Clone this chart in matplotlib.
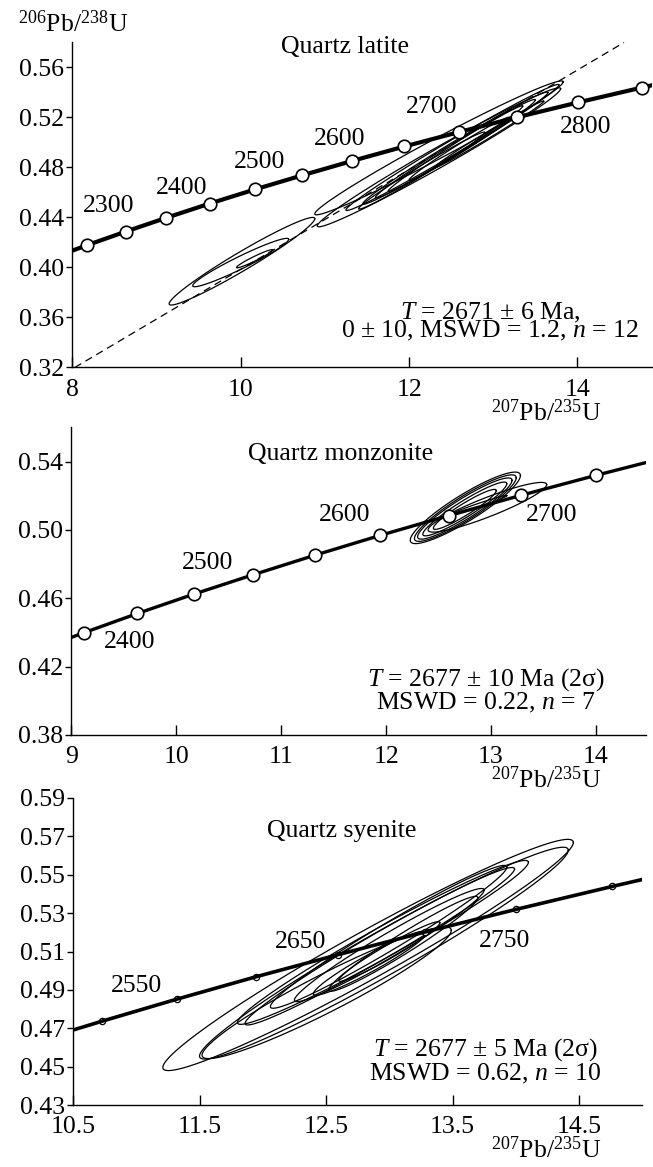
import numpy as np
import matplotlib
matplotlib.use("Agg")
import matplotlib.pyplot as plt

plt.rcParams['font.family'] = ['Liberation Serif', 'DejaVu Serif']
plt.rcParams['mathtext.fontset'] = 'custom'
plt.rcParams['mathtext.rm'] = 'Liberation Serif'
plt.rcParams['mathtext.it'] = 'Liberation Serif:italic'

# concordia table (age Ma, 207Pb/235U, 206Pb/238U), 50 Ma step
conc_age = [2200, 2250, 2300, 2350, 2400, 2450, 2500, 2550, 2600, 2650, 2700, 2750, 2800, 2850]
conc_x = [7.729, 8.170, 8.633, 9.119, 9.630, 10.167, 10.730, 11.322, 11.944, 12.598, 13.284, 14.005, 14.762, 15.557]
conc_y = [0.4067, 0.4177, 0.4287, 0.4398, 0.4511, 0.4624, 0.4737, 0.4852, 0.4968, 0.5084, 0.5202, 0.5320, 0.5439, 0.5560]

# discordia (quartz latite): lower intercept 0 Ma, upper intercept 2671 Ma
disc_x = [0.0, 12.882]
disc_y = [0.0, 0.5134]

# error ellipses: major-axis tips (x1, y1, x2, y2) and half thickness h
lat_x1 = [9.15, 9.43, 9.95, 10.88, 10.91, 11.25, 11.45, 11.60, 11.75, 12.00, 11.40, 12.30]
lat_y1 = [0.3710, 0.3854, 0.4000, 0.4429, 0.4333, 0.4460, 0.4510, 0.4560, 0.4610, 0.4700, 0.4470, 0.4800]
lat_x2 = [10.88, 10.57, 10.38, 13.83, 13.80, 13.78, 13.65, 13.50, 13.35, 13.20, 12.90, 13.60]
lat_y2 = [0.4390, 0.4225, 0.4140, 0.5485, 0.5430, 0.5460, 0.5400, 0.5340, 0.5290, 0.5200, 0.5080, 0.5330]
lat_h = [0.0085, 0.0055, 0.0020, 0.0090, 0.0090, 0.0065, 0.0060, 0.0055, 0.0045, 0.0040, 0.0045, 0.0030]

mon_x1 = [12.23, 12.27, 12.30, 12.40, 12.35, 12.45, 12.58]
mon_y1 = [0.4940, 0.4950, 0.4960, 0.5000, 0.4975, 0.5010, 0.5080]
mon_x2 = [13.28, 13.24, 13.20, 13.53, 13.15, 13.05, 13.15]
mon_y2 = [0.5318, 0.5305, 0.5290, 0.5265, 0.5270, 0.5230, 0.5200]
mon_h = [0.0090, 0.0080, 0.0070, 0.0060, 0.0055, 0.0040, 0.0012]

sye_x1 = [11.21, 11.50, 11.52, 11.80, 11.86, 12.06, 12.25, 12.52, 12.40, 12.60]
sye_y1 = [0.4496, 0.4555, 0.4560, 0.4730, 0.4725, 0.4813, 0.4847, 0.4900, 0.4880, 0.4950]
sye_x2 = [14.455, 14.415, 13.49, 14.10, 13.99, 13.93, 13.75, 13.70, 13.30, 13.40]
sye_y2 = [0.5668, 0.5628, 0.5210, 0.5565, 0.5530, 0.5540, 0.5420, 0.5380, 0.5200, 0.5250]
sye_h = [0.0140, 0.0130, 0.0110, 0.0090, 0.0080, 0.0080, 0.0070, 0.0060, 0.0050, 0.0040]

# age labels on concordia
lat_lab = [('2300', 8.435, 0.449), ('2400', 9.295, 0.4636), ('2500', 10.22, 0.484),
           ('2600', 11.17, 0.503), ('2700', 12.27, 0.5286), ('2800', 14.095, 0.5127)]
mon_lab = [('2400', 9.56, 0.4346), ('2500', 10.30, 0.4805), ('2600', 11.60, 0.5090),
           ('2700', 13.58, 0.5085)]
sye_lab = [('2550', 11.00, 0.492), ('2650', 12.30, 0.5150), ('2750', 13.91, 0.5155)]

FS = 18.5
TFS = 18.5


def ellipses(ax, x1, y1, x2, y2, h):
    t = np.linspace(0, 2 * np.pi, 300)
    for a, b, c, d, w in zip(x1, y1, x2, y2, h):
        cx, cy = (a + c) / 2, (b + d) / 2
        dx, dy = (c - a) / 2, (d - b) / 2
        ax.plot(cx + dx * np.cos(t), cy + dy * np.cos(t) + w * np.sin(t),
                color='k', lw=0.9, zorder=2)


def style(ax, xlim, ylim, xt, yt, yfmt):
    ax.set_xlim(*xlim)
    ax.set_ylim(*ylim)
    ax.set_xticks(xt)
    ax.set_xticklabels([('%g' % v) for v in xt])
    ax.set_yticks(yt)
    ax.set_yticklabels([yfmt % v for v in yt])
    for s in ['top', 'right']:
        ax.spines[s].set_visible(False)
    for s in ['left', 'bottom']:
        ax.spines[s].set_linewidth(1.0)
    ax.tick_params(axis='x', direction='in', length=7, width=1.0, labelsize=TFS, pad=8)
    ax.tick_params(axis='y', direction='out', length=4.5, width=1.0, labelsize=TFS, pad=1.5)


def concordia(ax, lw, ms, mew):
    ax.plot(conc_x, conc_y, color='k', lw=lw, zorder=3, solid_capstyle='butt')
    ax.plot(conc_x, conc_y, 'o', ms=ms, mfc='white', mec='k', mew=mew, zorder=4)


fig = plt.figure(figsize=(6.53, 11.67), dpi=100)

# panel 1: quartz latite
ax1 = fig.add_axes([0.1107, 0.6851, 0.8877, 0.2785])
ellipses(ax1, lat_x1, lat_y1, lat_x2, lat_y2, lat_h)
ax1.axline((disc_x[0], disc_y[0]), (disc_x[1], disc_y[1]), color='k', lw=0.9,
           ls=(0, (6, 4)), zorder=1)
concordia(ax1, 3.0, 9, 1.2)
style(ax1, (8, 14.885), (0.32, 0.58), [8, 10, 12, 14], np.arange(0.32, 0.57, 0.04), '%.2f')
for s, x, y in lat_lab:
    ax1.text(x, y, s, fontsize=FS, ha='center', va='center')
ax1.text(11.235, 0.5765, 'Quartz latite', fontsize=FS, ha='center', va='center')
ax1.text(12.965, 0.3565, '$T$ = 2671 ± 6 Ma,\n0 ± 10, MSWD = 1.2, $n$ = 12',
         fontsize=FS, ha='center', va='center', multialignment='center', linespacing=0.68)

# panel 2: quartz monzonite
ax2 = fig.add_axes([0.1092, 0.3702, 0.8806, 0.2636])
ellipses(ax2, mon_x1, mon_y1, mon_x2, mon_y2, mon_h)
concordia(ax2, 2.4, 9, 1.2)
style(ax2, (9, 14.48), (0.38, 0.56), [9, 10, 11, 12, 13, 14], np.arange(0.38, 0.55, 0.04), '%.2f')
for s, x, y in mon_lab:
    ax2.text(x, y, s, fontsize=FS, ha='center', va='center')
ax2.text(11.57, 0.5445, 'Quartz monzonite', fontsize=FS, ha='center', va='center')
ax2.text(12.95, 0.4058, '$T$ = 2677 ± 10 Ma (2σ)\nMSWD = 0.22, $n$ = 7',
         fontsize=FS, ha='center', va='center', multialignment='center', linespacing=0.88)

# panel 3: quartz syenite
ax3 = fig.add_axes([0.1118, 0.0531, 0.8718, 0.2631])
ellipses(ax3, sye_x1, sye_y1, sye_x2, sye_y2, sye_h)
ax3.plot(conc_x, conc_y, 'o', ms=4.5, mfc='white', mec='k', mew=0.9, zorder=3)
ax3.plot(conc_x, conc_y, color='k', lw=2.6, zorder=4)
style(ax3, (10.5, 15.0), (0.43, 0.59), [10.5, 11.5, 12.5, 13.5, 14.5],
      np.arange(0.43, 0.595, 0.02), '%.2f')
for s, x, y in sye_lab:
    ax3.text(x, y, s, fontsize=FS, ha='center', va='center')
ax3.text(12.62, 0.5728, 'Quartz syenite', fontsize=FS, ha='center', va='center')
ax3.text(13.76, 0.4529, '$T$ = 2677 ± 5 Ma (2σ)\nMSWD = 0.62, $n$ = 10',
         fontsize=FS, ha='center', va='center', multialignment='center', linespacing=0.93)

# axis titles
fig.text(73 / 653, 1 - 24 / 1167, r'$^{206}$Pb/$^{238}$U', fontsize=FS, ha='center', va='center')
for ax in (ax1, ax2, ax3):
    pos = ax.get_position()
    fig.text(546 / 653, pos.y0 - 45 / 1167, r'$^{207}$Pb/$^{235}$U', fontsize=FS,
             ha='center', va='center')

fig.savefig('out.png', dpi=100)
